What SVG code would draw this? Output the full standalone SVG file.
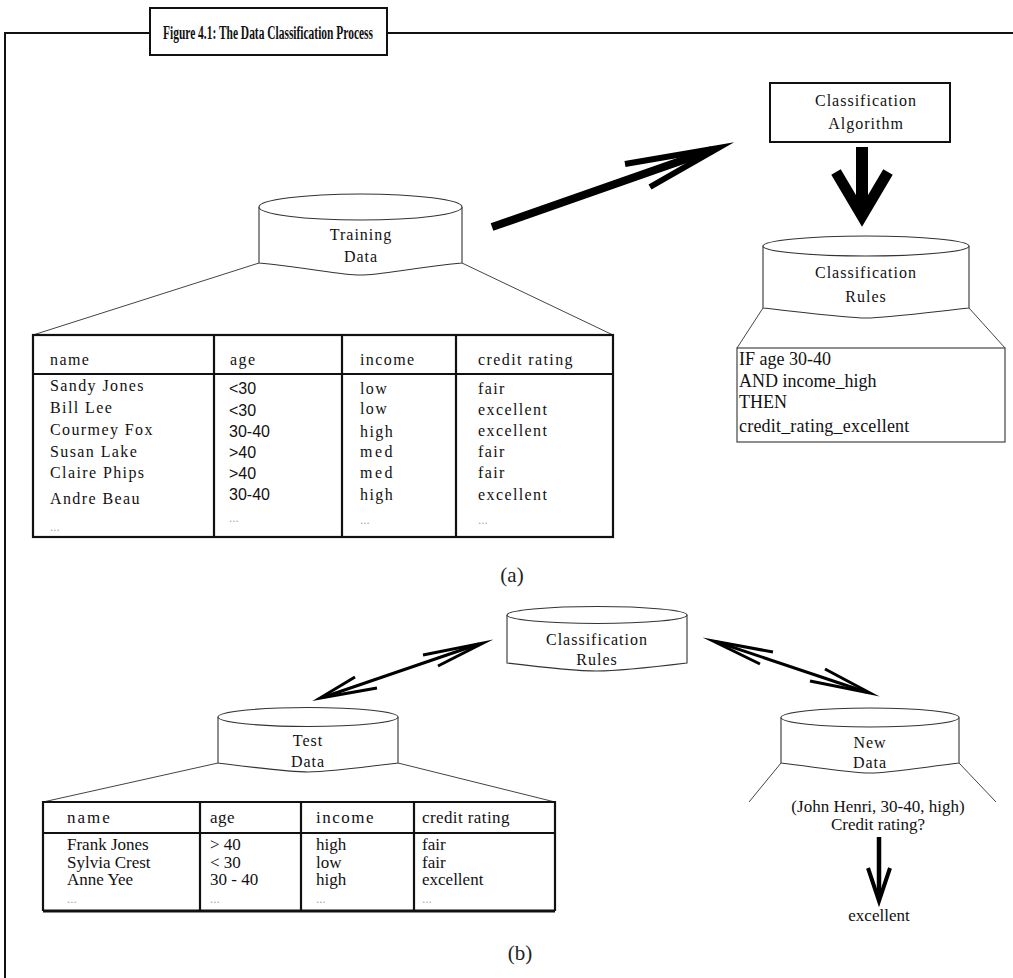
<svg xmlns="http://www.w3.org/2000/svg" width="1013" height="978" viewBox="0 0 1013 978">
  <style>
    .frame { fill: none; stroke: #111; stroke-width: 2; }
    .cyl { fill: #fff; stroke: #333; stroke-width: 1.1; }
    .thin { fill: none; stroke: #444; stroke-width: 1; }
    .tbl { fill: none; stroke: #111; stroke-width: 2.2; }
    .lbl { font-family: "Liberation Serif", serif; font-size: 16px; letter-spacing: 1px; fill: #111; text-anchor: middle; }
    .cell { font-family: "Liberation Serif", serif; font-size: 16px; letter-spacing: 1.4px; fill: #111; }
    .sans { font-family: "Liberation Sans", sans-serif; font-size: 16px; fill: #111; }
    .dots { font-family: "Liberation Serif", serif; font-size: 13px; fill: #aaa; }
    .rule { font-family: "Liberation Serif", serif; font-size: 18px; fill: #111; }
    .tcell { font-family: "Liberation Serif", serif; font-size: 17px; fill: #111; }
    .cap { font-family: "Liberation Serif", serif; font-size: 21px; fill: #222; text-anchor: middle; }
    .bold { stroke: #000; fill: none; stroke-linejoin: miter; stroke-miterlimit: 12; }
  </style>

  <!-- outer frame with title tab -->
  <g id="frame">
    <polyline class="frame" points="5,978 5,33 150,33"/>
    <line class="frame" x1="387" y1="33" x2="1013" y2="33"/>
    <rect class="frame" x="150" y="8" width="237" height="47" fill="#fff"/>
    <text x="268" y="39" font-family="Liberation Serif, serif" font-weight="bold" font-size="18" text-anchor="middle" textLength="210" lengthAdjust="spacingAndGlyphs" fill="#111">Figure 4.1: The Data Classification Process</text>
  </g>

  <!-- (a) training -->
  <g id="classification-algorithm">
    <rect x="770" y="83" width="180" height="59" fill="#fff" stroke="#111" stroke-width="2"/>
    <text class="lbl" x="866" y="106">Classification</text>
    <text class="lbl" x="866" y="129">Algorithm</text>
  </g>

  <g id="training-data">
    <path class="cyl" d="M259,207 L259,263 C310,268 340,275 360.5,275 C381,275 411,268 462,263 L462,207"/>
    <ellipse class="cyl" cx="360.5" cy="207" rx="101.5" ry="13"/>
    <text class="lbl" x="361" y="240">Training</text>
    <text class="lbl" x="361" y="262">Data</text>
    <line class="thin" x1="259" y1="263" x2="33" y2="335"/>
    <line class="thin" x1="462" y1="263" x2="613" y2="335"/>
  </g>

  <g id="training-table">
    <rect class="tbl" x="33" y="335" width="580" height="202"/>
    <line class="tbl" x1="33" y1="374" x2="613" y2="374"/>
    <line class="tbl" x1="214" y1="335" x2="214" y2="537"/>
    <line class="tbl" x1="342" y1="335" x2="342" y2="537"/>
    <line class="tbl" x1="456" y1="335" x2="456" y2="537"/>
    <text class="cell" x="50" y="365" letter-spacing="4">name</text>
    <text class="cell" x="230" y="365" letter-spacing="0.5">age</text>
    <text class="cell" x="360" y="365" letter-spacing="1.7">income</text>
    <text class="cell" x="478" y="365" letter-spacing="1.3">credit rating</text>
    <g class="cell" letter-spacing="1.5">
      <text x="50" y="391">Sandy Jones</text>
      <text x="50" y="413">Bill Lee</text>
      <text x="50" y="435">Courmey Fox</text>
      <text x="50" y="457">Susan Lake</text>
      <text x="50" y="478">Claire Phips</text>
      <text x="50" y="504">Andre Beau</text>
      <text x="360" y="394">low</text>
      <text x="360" y="414">low</text>
      <text x="360" y="437">high</text>
      <text x="360" y="457" letter-spacing="2.5">med</text>
      <text x="360" y="478" letter-spacing="2.5">med</text>
      <text x="360" y="500">high</text>
      <text x="478" y="394">fair</text>
      <text x="478" y="415">excellent</text>
      <text x="478" y="436">excellent</text>
      <text x="478" y="457">fair</text>
      <text x="478" y="478">fair</text>
      <text x="478" y="500">excellent</text>
    </g>
    <text class="sans" x="229" y="394">&lt;30</text>
    <text class="sans" x="229" y="416">&lt;30</text>
    <text class="sans" x="229" y="437">30-40</text>
    <text class="sans" x="229" y="458">&gt;40</text>
    <text class="sans" x="229" y="479">&gt;40</text>
    <text class="sans" x="229" y="500">30-40</text>
    <text class="dots" x="50" y="531">...</text>
    <text class="dots" x="229" y="522">...</text>
    <text class="dots" x="360" y="524">...</text>
    <text class="dots" x="478" y="524">...</text>
  </g>

  <g id="classification-rules-a">
    <path class="cyl" d="M763,246 L763,308 C800,312 845,318 866,318 C887,318 932,312 969,308 L969,246"/>
    <ellipse class="cyl" cx="866" cy="246" rx="103" ry="10"/>
    <text class="lbl" x="866" y="278">Classification</text>
    <text class="lbl" x="866" y="302">Rules</text>
    <line class="thin" x1="763" y1="308" x2="737" y2="348"/>
    <line class="thin" x1="969" y1="308" x2="1005" y2="348"/>
    <rect x="737" y="348" width="268" height="94" fill="none" stroke="#444" stroke-width="1.2"/>
    <text class="rule" x="739" y="365">IF age 30-40</text>
    <text class="rule" x="739" y="387">AND income_high</text>
    <text class="rule" x="739" y="408">THEN</text>
    <text class="rule" x="739" y="432" letter-spacing="0.2">credit_rating_excellent</text>
  </g>

  <text class="cap" x="512" y="582">(a)</text>

  <!-- (b) testing and use -->
  <g id="classification-rules-b">
    <path class="cyl" d="M507,615 L507,663 C540,667 575,671 597,671 C619,671 654,667 687,663 L687,615"/>
    <ellipse class="cyl" cx="597" cy="615" rx="90" ry="8.5"/>
    <text class="lbl" x="597" y="645">Classification</text>
    <text class="lbl" x="597" y="665">Rules</text>
  </g>

  <g id="test-data">
    <path class="cyl" d="M218,717 L218,763 C250,767 288,772 308,772 C328,772 366,767 398,763 L398,717"/>
    <ellipse class="cyl" cx="308" cy="717" rx="90" ry="9.5"/>
    <text class="lbl" x="308" y="746">Test</text>
    <text class="lbl" x="308" y="767">Data</text>
    <line class="thin" x1="218" y1="763" x2="43" y2="802"/>
    <line class="thin" x1="398" y1="763" x2="555" y2="802"/>
  </g>

  <g id="test-table">
    <polyline class="tbl" points="43,911 43,802 555,802 555,911"/>
    <line x1="43" y1="911" x2="555" y2="911" stroke="#111" stroke-width="3"/>
    <line class="tbl" x1="43" y1="833" x2="555" y2="833" stroke-width="1.4"/>
    <line class="tbl" x1="200" y1="802" x2="200" y2="911"/>
    <line class="tbl" x1="301" y1="802" x2="301" y2="911"/>
    <line class="tbl" x1="414" y1="802" x2="414" y2="911"/>
    <text class="tcell" x="67" y="823" letter-spacing="2">name</text>
    <text class="tcell" x="210" y="823" letter-spacing="0.5">age</text>
    <text class="tcell" x="316" y="823" letter-spacing="1.5">income</text>
    <text class="tcell" x="422" y="823" letter-spacing="0.4">credit rating</text>
    <text class="tcell" x="67" y="850">Frank Jones</text>
    <text class="tcell" x="67" y="868">Sylvia Crest</text>
    <text class="tcell" x="67" y="885">Anne Yee</text>
    <text class="tcell" x="210" y="850">&gt; 40</text>
    <text class="tcell" x="210" y="868">&lt; 30</text>
    <text class="tcell" x="210" y="885">30 - 40</text>
    <text class="tcell" x="316" y="850">high</text>
    <text class="tcell" x="316" y="868">low</text>
    <text class="tcell" x="316" y="885">high</text>
    <text class="tcell" x="422" y="850">fair</text>
    <text class="tcell" x="422" y="868">fair</text>
    <text class="tcell" x="422" y="885">excellent</text>
    <text class="dots" x="67" y="903">...</text>
    <text class="dots" x="210" y="903">...</text>
    <text class="dots" x="316" y="903">...</text>
    <text class="dots" x="422" y="903">...</text>
  </g>

  <g id="new-data">
    <path class="cyl" d="M781,717.5 L781,763 C815,767 850,773 870,773 C890,773 925,767 959,763 L959,717.5"/>
    <ellipse class="cyl" cx="870" cy="717.5" rx="89" ry="9.5"/>
    <text class="lbl" x="870" y="748">New</text>
    <text class="lbl" x="870" y="768">Data</text>
    <line class="thin" x1="781" y1="763" x2="749" y2="802"/>
    <line class="thin" x1="959" y1="763" x2="996" y2="802"/>
    <text class="tcell" x="878" y="812" font-size="17.5" text-anchor="middle">(John Henri, 30-40, high)</text>
    <text class="tcell" x="878" y="830" font-size="17.5" text-anchor="middle">Credit rating?</text>
  </g>

  <g id="result">
    <text class="tcell" x="879" y="921" font-size="14" text-anchor="middle">excellent</text>
  </g>

  <text class="cap" x="520" y="960">(b)</text>

  <!-- arrows -->
  <g id="connectors">
    <!-- training data to algorithm -->
    <line class="bold" x1="492" y1="227" x2="712" y2="150" stroke-width="8"/>
    <polyline class="bold" points="625,164 718,148 650,187" stroke-width="6"/>
    <!-- algorithm to rules -->
    <line class="bold" x1="862" y1="147" x2="862" y2="215" stroke-width="12"/>
    <polyline class="bold" points="836,172 862,216 888,172" stroke-width="11"/>
    <!-- rules to test data (two-way) -->
    <line class="bold" x1="324" y1="697" x2="479" y2="644" stroke-width="3"/>
    <polyline class="bold" points="423,655 483,643 438,666" stroke-width="3"/>
    <polyline class="bold" points="355,677 320,698 377,688" stroke-width="3"/>
    <!-- rules to new data (two-way) -->
    <line class="bold" x1="717" y1="642" x2="866" y2="692" stroke-width="3"/>
    <polyline class="bold" points="773,652 713,641 760,664" stroke-width="3"/>
    <polyline class="bold" points="825,669 870,693 810,681" stroke-width="3"/>
    <!-- new data to result -->
    <line class="bold" x1="879" y1="837" x2="879" y2="897" stroke-width="4.5"/>
    <polyline class="bold" points="868,868 879,901 890,868" stroke-width="4"/>
  </g>
</svg>
